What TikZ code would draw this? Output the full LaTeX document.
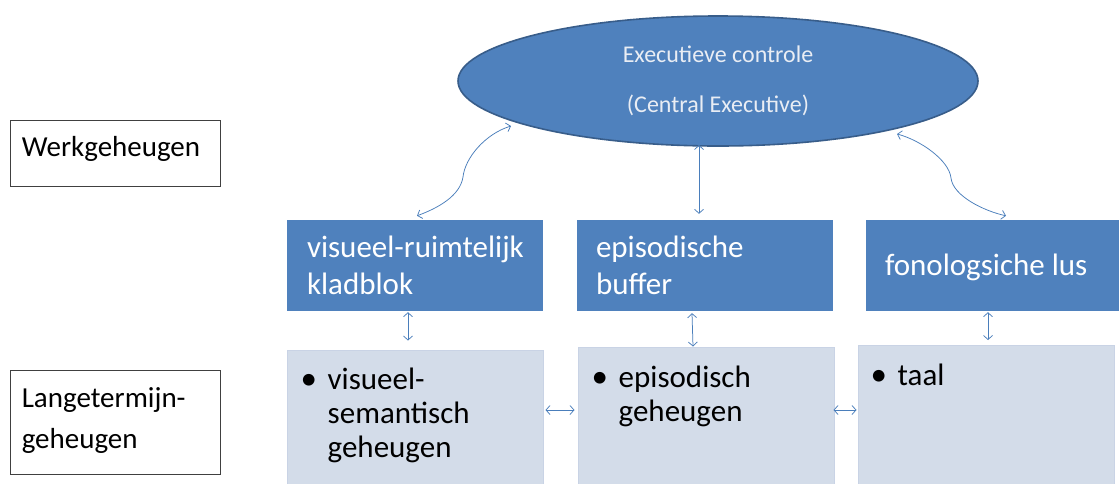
\documentclass[tikz,border=0pt]{standalone}
\usepackage{fontspec}
\setmainfont{Carlito}
\usetikzlibrary{shapes.geometric,arrows.meta,calc}
\definecolor{accent}{HTML}{4F81BD}
\definecolor{accentdark}{HTML}{385D8A}
\definecolor{lightbox}{HTML}{D3DCE9}
\definecolor{lightborder}{HTML}{C9D3E5}
\definecolor{arrowblue}{HTML}{4A7EBB}
\definecolor{paletext}{HTML}{E9EDF4}
\newcommand{\bul}[1]{\makebox[27pt][l]{\fontsize{33}{33}\selectfont •}#1}
\newcommand{\ind}[1]{\hspace*{27pt}#1}
\begin{document}
\begin{tikzpicture}[x=1pt,y=-1pt,
  bluebox/.style={rectangle, fill=accent, draw=none, minimum width=256pt, minimum height=91pt, inner sep=0pt},
  ltmbox/.style={rectangle, fill=lightbox, draw=lightborder, line width=1pt, minimum width=256pt, inner sep=0pt},
  labelbox/.style={rectangle, draw=black!75, line width=0.8pt, minimum width=210pt, inner sep=0pt},
  link/.style={draw=arrowblue, line width=0.75pt, {Straight Barb[length=4pt,width=9pt]}-{Straight Barb[length=4pt,width=9pt]}},
  boxtext/.style={anchor=west, align=left, text=white, inner sep=0pt, font=\fontsize{31}{37}\selectfont},
  ltmtext/.style={anchor=north west, align=left, text=black, inner sep=0pt, font=\fontsize{31}{34}\selectfont},
  sidetext/.style={anchor=north west, align=left, text=black, inner sep=0pt, font=\fontsize{29}{41}\selectfont}
]
\useasboundingbox (0,0) rectangle (1119,483);
\fill[white] (0,0) rectangle (1119,483);

% side labels
\node[labelbox, minimum height=66pt] (wg) at (115,153) {};
\node[sidetext] (wgt) at ([xshift=12pt,yshift=-17pt]wg.north west) {Werkgeheugen};
\node[labelbox, minimum height=104pt] (ltm) at (115,422) {};
\node[sidetext] (ltmt) at ([xshift=12pt,yshift=-18pt]ltm.north west) {Langetermijn-\\geheugen};

% central executive
\node[ellipse, fill=accent, draw=accentdark, line width=1.6pt, minimum width=520pt, minimum height=130pt, inner sep=0pt,
      text=paletext, align=center, font=\fontsize{24}{50}\selectfont] (ce) at (718,81) {Executieve controle\\(Central Executive)};

% working memory components
\node[bluebox] (b1) at (415,265.5) {};
\node[bluebox] (b2) at (705,265.5) {};
\node[bluebox] (b3) at (994,265.5) {};
\node[boxtext] (b1t) at ([xshift=20pt,yshift=0pt]b1.west) {visueel-ruimtelijk\\kladblok};
\node[boxtext] (b2t) at ([xshift=19pt,yshift=0pt]b2.west) {episodische\\buffer};
\node[boxtext] (b3t) at ([xshift=19pt,yshift=-1.5pt]b3.west) {fonologsiche lus};

% long-term memory boxes
\node[ltmbox, minimum height=150pt] (l1) at (415,425) {};
\node[ltmbox, minimum height=152pt] (l2) at (706,423) {};
\node[ltmbox, minimum height=153pt] (l3) at (986,422) {};
\node[ltmtext] (l1t) at ([xshift=14pt,yshift=-18pt]l1.north west) {\bul{visueel-}\\\ind{semantisch}\\\ind{geheugen}};
\node[ltmtext] (l2t) at ([xshift=14pt,yshift=-19pt]l2.north west) {\bul{episodisch}\\\ind{geheugen}};
\node[ltmtext] (l3t) at ([xshift=13pt,yshift=-19pt]l3.north west) {\bul{taal}};

% free ends on the ellipse and helper levels
\coordinate (ceL) at (511,126);
\coordinate (ceM) at (699,145);
\coordinate (ceR) at (897,134);
\coordinate (b2top) at ([yshift=6pt]b2.north);
\coordinate (hy) at (0,410);

% connectors
\draw[link] (ceL) .. controls (485,134) and (465,158) .. (463,177)
                  .. controls (460,196) and (438,208) .. ([xshift=2pt,yshift=4pt]b1.north);
\draw[link] (ceM) -- (ceM |- b2top);
\draw[link] (ceR) .. controls (920,140) and (949,160) .. (951,178)
                  .. controls (953,196) and (984,211) .. ([xshift=12pt,yshift=4pt]b3.north);
\draw[link] ([xshift=-7pt,yshift=-1pt]b1.south) -- ([xshift=-7pt,yshift=9pt]l1.north);
\draw[link] ([xshift=-13pt,yshift=-2pt]b2.south) -- ([xshift=-13pt,yshift=0pt]l2.north);
\draw[link] ([xshift=-6pt,yshift=-1pt]b3.south) -- ([xshift=2pt,yshift=5pt]l3.north);
\draw[link] ($(l1.east |- hy)+(2,0)$) -- ($(l2.west |- hy)+(-3,0)$);
\draw[link] ($(l2.east |- hy)+(-1,0)$) -- ($(l3.west |- hy)+(-1,0)$);
\end{tikzpicture}
\end{document}
